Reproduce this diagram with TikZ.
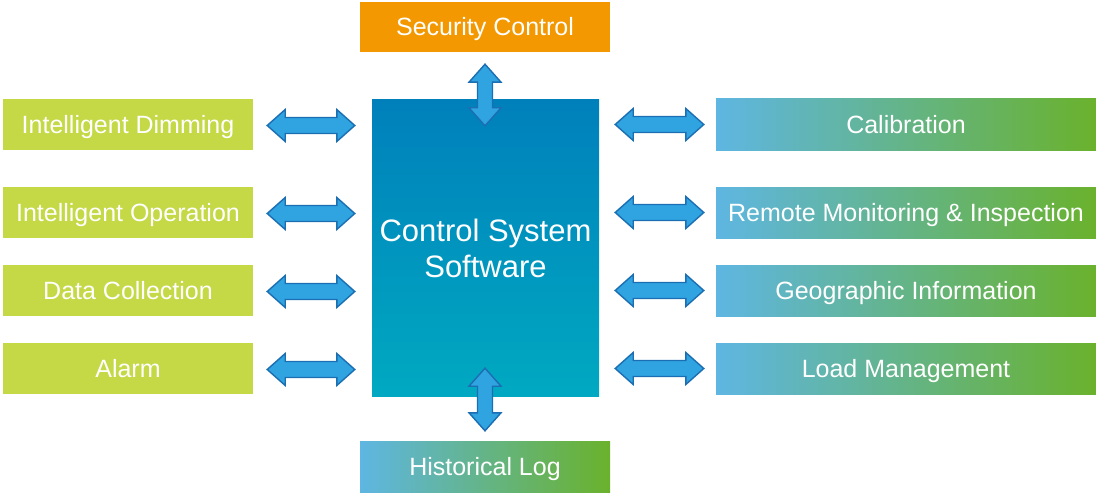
\documentclass[tikz,border=0pt]{standalone}
\usepackage{fontspec}
\setmainfont{Liberation Sans}
\usetikzlibrary{calc}
\definecolor{orangebox}{HTML}{F39800}
\definecolor{limebox}{HTML}{C5D946}
\definecolor{ctop}{HTML}{0080BB}
\definecolor{cbot}{HTML}{00A9C1}
\definecolor{gleft}{HTML}{5EB6E2}
\definecolor{gright}{HTML}{6AB22C}
\definecolor{arrfill}{HTML}{2FA4E0}
\definecolor{arrline}{HTML}{1C6EB2}
\tikzset{
  basebox/.style={minimum height=51, inner sep=0, text=white, text height=18pt, text depth=0pt, font=\fontsize{25}{30}\selectfont},
  limenode/.style={basebox, fill=limebox, minimum width=250},
  gradnode/.style={basebox, left color=gleft, right color=gright, shading angle=90},
  orangenode/.style={basebox, fill=orangebox, minimum width=250, minimum height=50},
  centernode/.style={minimum width=227, minimum height=296, inner sep=0, top color=ctop, bottom color=cbot, text=white, align=center, font=\fontsize{31}{36}\selectfont},
  arrowsty/.style={fill=arrfill, draw=arrline, line width=1.4pt, line join=miter}
}
\newcommand\harrowdraw[2]{%
  \filldraw[arrowsty] (#1) -- ($(#1)+(18,-16)$) -- ($(#1)+(18,-8)$) -- ($(#2)+(-18,-8)$) -- ($(#2)+(-18,-16)$) -- (#2) -- ($(#2)+(-18,16)$) -- ($(#2)+(-18,8)$) -- ($(#1)+(18,8)$) -- ($(#1)+(18,16)$) -- cycle;}
\newcommand\varrowdraw[2]{%
  \filldraw[arrowsty] (#1) -- ($(#1)+(16,18)$) -- ($(#1)+(7.5,18)$) -- ($(#2)+(7.5,-18)$) -- ($(#2)+(16,-18)$) -- (#2) -- ($(#2)+(-16,-18)$) -- ($(#2)+(-7.5,-18)$) -- ($(#1)+(-7.5,18)$) -- ($(#1)+(-16,18)$) -- cycle;}
\begin{document}
\begin{tikzpicture}[x=1pt,y=-1pt]
\useasboundingbox (0,0) rectangle (1096,495);
% center
\node[centernode] (cs) at (485.5,248) {Control System\\Software};
% top / bottom
\node[orangenode] (sec) at (485,27) {Security Control};
\node[gradnode, minimum width=250] (hist) at (485,466.5) {Historical Log};
% left
\node[limenode] (l1) at (128,124.5) {Intelligent Dimming};
\node[limenode] (l2) at (128,212.5) {Intelligent Operation};
\node[limenode] (l3) at (128,290.5) {Data Collection};
\node[limenode] (l4) at (128,368.5) {Alarm};
% right
\node[gradnode, minimum width=380] (r1) at (906,124.5) {Calibration};
\node[gradnode, minimum width=380] (r2) at (906,212.5) {Remote Monitoring \& Inspection};
\node[gradnode, minimum width=380] (r3) at (906,290.5) {Geographic Information};
\node[gradnode, minimum width=380] (r4) at (906,368.5) {Load Management};
% connector end points
\foreach \i in {1,2,3,4}{
  \coordinate (la\i) at ($(l\i.east)+(14,1)$);
  \coordinate (lb\i) at ($(cs.west|-l\i.east)+(-17,1)$);
  \coordinate (ra\i) at ($(cs.east|-r\i.west)+(16,0)$);
  \coordinate (rb\i) at ($(r\i.west)+(-12,0)$);
}
\coordinate (ta) at ($(sec.south)+(0,12)$);
\coordinate (tb) at ($(cs.north)+(-0.5,26)$);
\coordinate (ba) at ($(cs.south)+(-0.5,-28)$);
\coordinate (bb) at ($(hist.north)+(0,-10)$);
% arrows
\foreach \i in {1,2,3,4}{
  \harrowdraw{la\i}{lb\i}
  \harrowdraw{ra\i}{rb\i}
}
\varrowdraw{ta}{tb}
\varrowdraw{ba}{bb}
\end{tikzpicture}
\end{document}
